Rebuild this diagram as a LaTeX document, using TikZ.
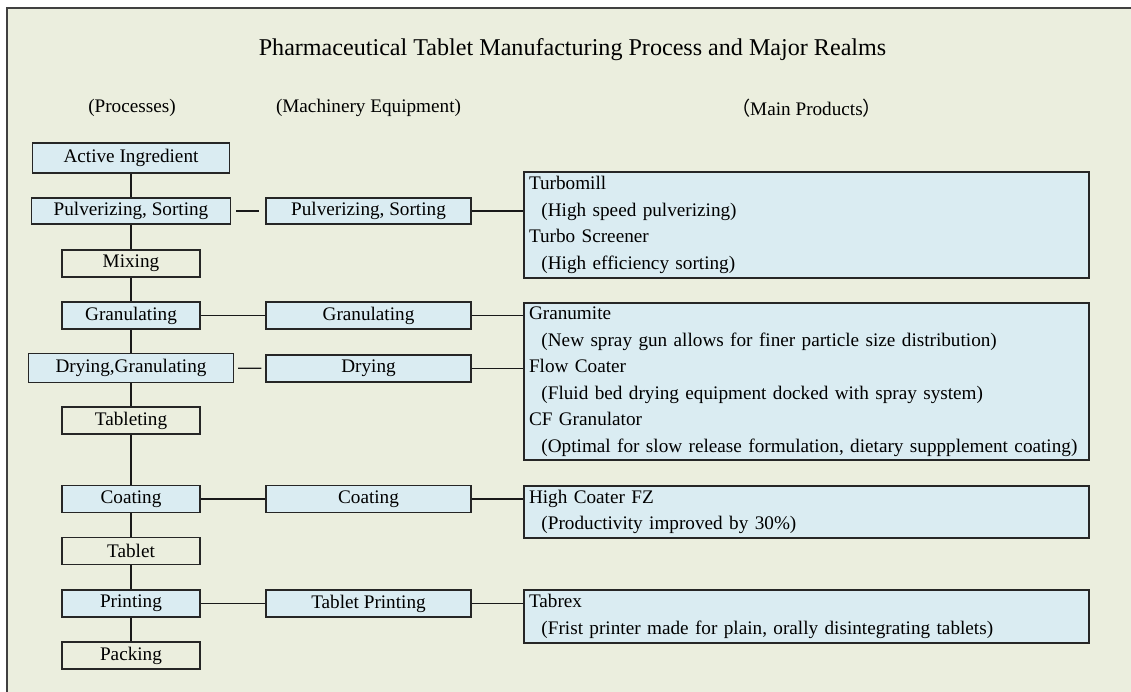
\documentclass[tikz,border=0pt]{standalone}
\usepackage{fontspec}
\setmainfont{Liberation Serif}
\newfontfamily\cjk{Noto Sans CJK SC}
\usetikzlibrary{positioning}
\definecolor{bgcol}{RGB}{235,238,222}
\definecolor{boxblue}{RGB}{218,236,242}
\newcommand\boxfont{\fontsize{19.2}{26.5}\selectfont}
\newcommand\ind{\hspace*{0.65em}}
\tikzset{
  base/.style={draw=black!85, line width=1.3pt, inner sep=0pt, font=\boxfont},
  proc/.style={base, fill=boxblue, minimum width=138pt, minimum height=27pt},
  plainbox/.style={base, minimum width=138pt, minimum height=27pt},
  mach/.style={base, fill=boxblue, minimum width=205pt, minimum height=27pt},
  prod/.style={base, fill=boxblue, minimum width=565pt, text width=555pt,
    inner xsep=5pt, align=left},
  link/.style={line width=1.2pt, black!90},
  head/.style={font=\boxfont}
}

\begin{document}
\begin{tikzpicture}[x=1pt, y=-1pt]
\useasboundingbox (0,0) rectangle (1131,691);
\coordinate (tl) at (7,8);
\coordinate (tr) at (1135,8);
\coordinate (bl) at (7,695);
\coordinate (br) at (1135,695);
 \fill[white] (0,0) rectangle (br);
 \fill[bgcol] (tl) rectangle (br);
 \draw[line width=1.6pt, black!75] (bl) -- (tl) -- (tr);
 % headings
 \node[font=\fontsize{24.1}{28}\selectfont] (title) at (572.5,50) {Pharmaceutical Tablet Manufacturing Process and Major Realms};
 \node[head] (hproc) at (132,108) {(Processes)};
 \node[head] (hmach) at (368.5,108) {(Machinery Equipment)};
 \node[head] (hprod) at (806.5,108) {{\cjk （}Main Products{\cjk ）}};
 % processes
 \node[proc, minimum width=197pt, minimum height=30pt] (ingr) at (131,158) {Active Ingredient};
 \node[proc, minimum width=199pt, minimum height=26pt] (pulv) at (131,211) {Pulverizing, Sorting};
 \node[plainbox] (mix) at (131,263.5) {Mixing};
 \node[proc] (gran) at (131,315.5) {Granulating};
 \node[proc, minimum width=205pt, minimum height=29pt] (dry) at (131,368) {Drying,Granulating};
 \node[plainbox] (tabl) at (131,420.5) {Tableting};
 \node[proc] (coat) at (131,499) {Coating};
 \node[plainbox] (tab) at (131,551) {Tablet};
 \node[proc] (prnt) at (131,603.5) {Printing};
 \node[plainbox] (pack) at (131,655.5) {Packing};
 % machinery
 \node[mach, minimum height=26pt] (mpulv) at (368.5,211) {Pulverizing, Sorting};
 \node[mach] (mgran) at (368.5,315.5) {Granulating};
 \node[mach] (mdry) at (368.5,368.5) {Drying};
 \node[mach] (mcoat) at (368.5,499) {Coating};
 \node[mach] (mprnt) at (368.5,603.5) {Tablet Printing};
 % products
 \node[prod, minimum height=106pt] (pturbo) at (806.5,225) {Turbomill\\\ind(High speed pulverizing)\\Turbo Screener\\\ind(High efficiency sorting)};
 \node[prod, minimum height=157pt] (pgranu) at (806.5,381.5) {Granumite\\\ind(New spray gun allows for finer particle size distribution)\\Flow Coater\\\ind(Fluid bed drying equipment docked with spray system)\\CF Granulator\\\ind(Optimal for slow release formulation, dietary suppplement coating)};
 \node[prod, minimum height=52pt] (pcoat) at (806.5,512) {High Coater FZ\\\ind(Productivity improved by 30\%)};
 \node[prod, minimum height=53pt] (ptabrex) at (806.5,616.5) {Tabrex\\\ind(Frist printer made for plain, orally disintegrating tablets)};
 % connectors
 \foreach \a/\b in {ingr/pulv, pulv/mix, mix/gran, gran/dry, dry/tabl, tabl/coat, coat/tab, tab/prnt, prnt/pack}
   \draw[link] (\a) -- (\b);
 \draw[link, shorten <=5pt, shorten >=6pt] (pulv) -- (mpulv);
 \draw[link, shorten <=4pt, shorten >=4pt] (dry) -- (mdry);
 \draw[link] (gran) -- (mgran);
 \draw[link] (coat) -- (mcoat);
 \draw[link] (prnt) -- (mprnt);
 \draw[link] (mpulv) -- (mpulv -| pturbo.west);
 \draw[link] (mgran) -- (mgran -| pgranu.west);
 \draw[link] (mdry) -- (mdry -| pgranu.west);
 \draw[link] (mcoat) -- (mcoat -| pcoat.west);
 \draw[link] (mprnt) -- (mprnt -| ptabrex.west);
\end{tikzpicture}
\end{document}
